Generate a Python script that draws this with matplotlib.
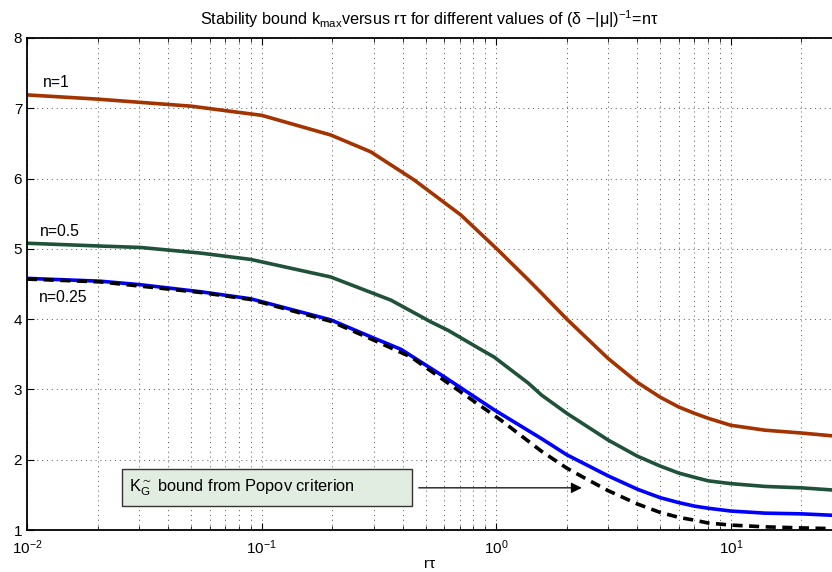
import matplotlib
matplotlib.use('Agg')
import matplotlib.pyplot as plt
from matplotlib.patches import Rectangle

plt.rcParams['font.family'] = ['Liberation Sans', 'DejaVu Sans']
plt.rcParams['mathtext.fontset'] = 'custom'
plt.rcParams['mathtext.rm'] = 'Liberation Sans'

# values
rt_n1 = [0.01, 0.02, 0.05, 0.0897, 0.1, 0.197, 0.292, 0.447, 0.708, 1.02, 1.37, 1.56, 2.0, 3.0, 4.0, 5.0, 6.0, 7.0, 8.0, 10.0, 14.0, 20.0, 27.0]
k_n1 = [7.19, 7.13, 7.03, 6.92, 6.90, 6.62, 6.38, 5.98, 5.48, 4.98, 4.56, 4.37, 4.00, 3.44, 3.10, 2.89, 2.75, 2.66, 2.59, 2.49, 2.42, 2.38, 2.34]

rt_n05 = [0.01, 0.0205, 0.0304, 0.0548, 0.0897, 0.197, 0.356, 0.527, 0.624, 0.838, 0.98, 1.37, 1.56, 2.0, 3.0, 4.0, 5.0, 6.0, 7.0, 8.0, 10.0, 14.0, 20.0, 27.0]
k_n05 = [5.08, 5.04, 5.02, 4.94, 4.85, 4.60, 4.27, 3.96, 3.84, 3.59, 3.46, 3.09, 2.92, 2.66, 2.28, 2.05, 1.91, 1.81, 1.75, 1.70, 1.66, 1.62, 1.60, 1.57]

rt_n025 = [0.01, 0.0205, 0.0304, 0.0548, 0.0897, 0.197, 0.301, 0.393, 0.600, 0.98, 1.56, 2.0, 3.0, 4.0, 5.0, 6.0, 7.0, 8.0, 10.0, 14.0, 20.0, 27.0]
k_n025 = [4.58, 4.54, 4.49, 4.39, 4.29, 3.99, 3.73, 3.57, 3.18, 2.71, 2.30, 2.07, 1.77, 1.58, 1.46, 1.39, 1.34, 1.31, 1.27, 1.24, 1.23, 1.21]

rt_pop = [0.01, 0.0205, 0.0548, 0.0897, 0.197, 0.301, 0.434, 0.582, 0.759, 1.05, 1.56, 2.0, 2.38, 3.0, 4.0, 5.0, 6.0, 7.0, 8.0, 10.0, 14.0, 20.0, 27.0]
k_pop = [4.57, 4.53, 4.38, 4.28, 3.97, 3.70, 3.46, 3.16, 2.89, 2.56, 2.12, 1.88, 1.74, 1.56, 1.37, 1.25, 1.18, 1.14, 1.10, 1.07, 1.045, 1.03, 1.02]

red = '#a33300'
green = '#1f5238'
blue = '#0000ff'

fig = plt.figure(figsize=(8.32, 5.72), dpi=100)
ax = fig.add_axes([0.0325, 0.0734, 0.9675, 0.8602])

ax.semilogx(rt_n1, k_n1, color=red, lw=2.6)
ax.semilogx(rt_n05, k_n05, color=green, lw=2.6)
ax.semilogx(rt_n025, k_n025, color=blue, lw=2.6)
ax.semilogx(rt_pop, k_pop, color='k', lw=2.6, ls=(0, (2.8, 1.8)))

ax.set_xlim(0.01, 27)
ax.set_ylim(1, 8)
ax.set_yticks(range(1, 9))
ax.grid(True, which='both', ls=(0, (1, 4)), color='#555555', lw=0.7)
ax.tick_params(which='both', direction='in', labelsize=11, top=True)
ax.tick_params(axis='x', pad=6)
ax.tick_params(which='major', length=5)
ax.tick_params(which='minor', length=3)
ax.spines['right'].set_visible(False)
for s in ['top', 'bottom', 'left']:
    ax.spines[s].set_linewidth(1.3)

ax.set_xlabel('rτ', fontsize=11, labelpad=0)
ax.set_title(r'Stability bound k$_{\mathregular{max}}$versus rτ for different values of (δ −|μ|)$^{\mathregular{-1}}$=nτ',
             fontsize=11.7, pad=9)

ax.text(0.0117, 7.37, 'n=1', fontsize=11.3, va='center')
ax.text(0.0113, 5.25, 'n=0.5', fontsize=11.3, va='center')
ax.text(0.0112, 4.31, 'n=0.25', fontsize=11.3, va='center')

# Popov annotation box and arrow
fig.patches.append(Rectangle((122 / 832, 1 - 506 / 572), 290 / 832, 37 / 572,
                             transform=fig.transFigure, fc='#e2ede2', ec='#333333', lw=1.0))
fig.text(129 / 832, 1 - 488 / 572, r'K$_{\mathregular{G}}^{\mathregular{\sim}}$ bound from Popov criterion',
         fontsize=11.8, va='center', ha='left')
ax.annotate('', xy=(2.38, 1.6), xytext=(0.455, 1.6),
            arrowprops=dict(arrowstyle='-|>', color='k', lw=0.9, mutation_scale=16))

fig.savefig('out.png', dpi=100)
